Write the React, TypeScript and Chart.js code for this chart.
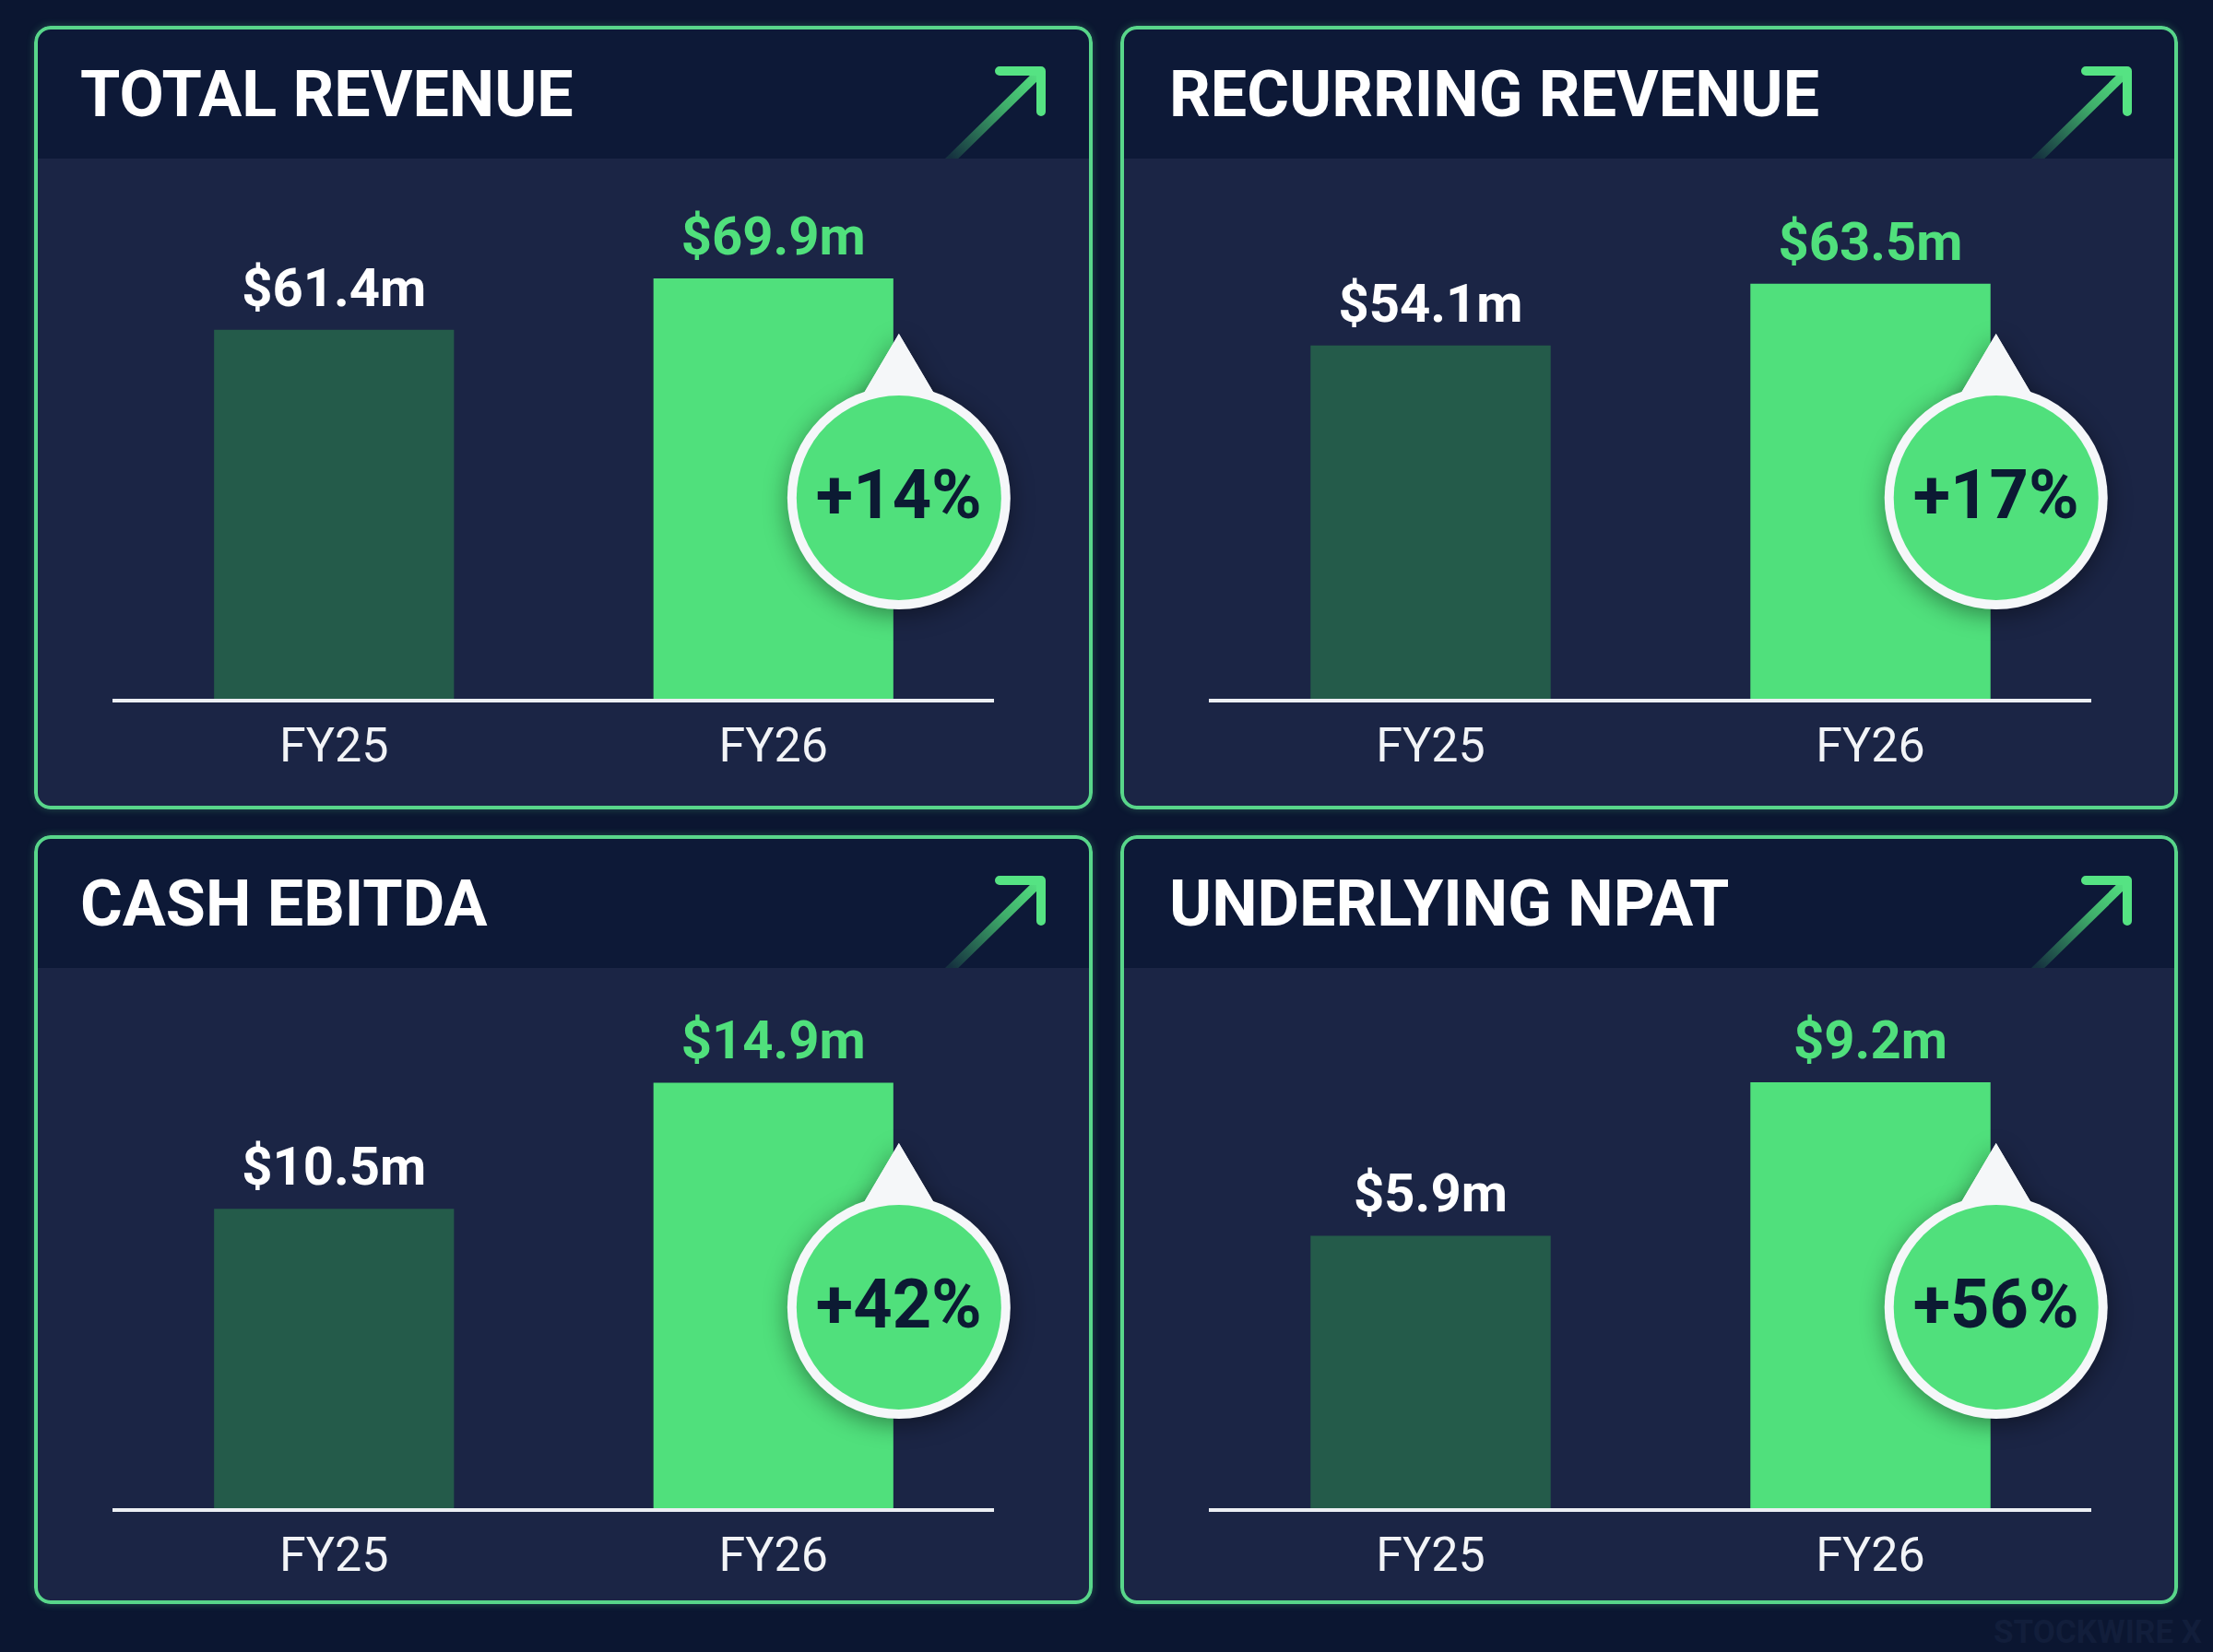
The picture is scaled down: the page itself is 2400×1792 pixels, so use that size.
import React, { useEffect, useRef } from "react";
import { Chart, registerables } from "chart.js";

Chart.register(...registerables);

// ---- data ----
const panelTitles = ["TOTAL REVENUE", "RECURRING REVENUE", "CASH EBITDA", "UNDERLYING NPAT"];
const periods = ["FY25", "FY26"];
const fy25Values = [61.4, 54.1, 10.5, 5.9];
const fy26Values = [69.9, 63.5, 14.9, 9.2];
const growthLabels = ["+14%", "+17%", "+42%", "+56%"];
const axisMax = [81.2, 74.7, 17.1, 10.55];

// ---- styling ----
const PAGE_BG = "#0b1631";
const HEADER_BG = "#0d1937";
const BODY_BG = "#1b2545";
const CARD_BORDER = "#58d68a";
const BAR_PREV = "#245b4a";
const BAR_CURR = "#50e07c";
const AXIS_COLOR = "#eceff3";
const BADGE_TEXT = "#0c1a33";
const FONT = "Roboto, 'Noto Sans', sans-serif";

const cardLeft = [37, 1215];
const cardWidth = [1148, 1147];
const cardTop = [28, 906];
const cardHeight = [850, 834];
const padLeft = [87, 98];
const padRight = [108, 95];
const titleLeft = [50, 53];

function Panel({ index }: { index: number }) {
  const col = index % 2;
  const row = Math.floor(index / 2);
  const w = cardWidth[col];
  const h = cardHeight[row];
  const canvasRef = useRef<HTMLCanvasElement>(null);

  useEffect(() => {
    const canvas = canvasRef.current;
    if (!canvas) return;
    const tickFont = 52;
    const tickPad = 22;
    const axisH = tickFont * 1.2 + tickPad * 2;
    const chartBottom = 732;
    const chartTop = 200;

    const overlay = {
      id: "overlay",
      afterDraw(chart: any) {
        const ctx = chart.ctx as CanvasRenderingContext2D;
        const meta = chart.getDatasetMeta(0);
        const data = chart.data.datasets[0].data as number[];
        ctx.save();
        ctx.font = `bold 58px ${FONT}`;
        ctx.textAlign = "center";
        ctx.textBaseline = "alphabetic";
        meta.data.forEach((bar: any, i: number) => {
          const p = bar.getProps(["x", "y", "width"], true);
          ctx.fillStyle = i === 0 ? "#ffffff" : BAR_CURR;
          ctx.fillText(`$${data[i].toFixed(1)}m`, p.x, p.y - 26);
        });
        ctx.restore();

        // growth badge
        const last = meta.data[1].getProps(["x", "y", "width"], true);
        const cx = last.x + last.width / 2 + 6;
        const cy = chart.chartArea.bottom - 220;
        ctx.save();
        ctx.shadowColor = "rgba(0,0,0,0.4)";
        ctx.shadowBlur = 26;
        ctx.shadowOffsetY = 6;
        ctx.fillStyle = "#f5f7f9";
        ctx.beginPath();
        ctx.moveTo(cx - 46, cy - 100);
        ctx.lineTo(cx, cy - 178);
        ctx.lineTo(cx + 46, cy - 100);
        ctx.closePath();
        ctx.fill();
        ctx.beginPath();
        ctx.arc(cx, cy, 121, 0, Math.PI * 2);
        ctx.fill();
        ctx.restore();
        ctx.save();
        ctx.fillStyle = "#f5f7f9";
        ctx.beginPath();
        ctx.moveTo(cx - 46, cy - 100);
        ctx.lineTo(cx, cy - 178);
        ctx.lineTo(cx + 46, cy - 100);
        ctx.closePath();
        ctx.fill();
        ctx.fillStyle = BAR_CURR;
        ctx.beginPath();
        ctx.arc(cx, cy, 111, 0, Math.PI * 2);
        ctx.fill();
        ctx.fillStyle = BADGE_TEXT;
        ctx.font = `bold 74px ${FONT}`;
        ctx.textAlign = "center";
        ctx.textBaseline = "alphabetic";
        ctx.fillText(growthLabels[index], cx, cy + 22);
        ctx.restore();
      },
    };

    const chart = new Chart(canvas, {
      type: "bar",
      data: {
        labels: periods,
        datasets: [
          {
            data: [fy25Values[index], fy26Values[index]],
            backgroundColor: [BAR_PREV, BAR_CURR],
            borderWidth: 0,
            barPercentage: 0.546,
            categoryPercentage: 1,
          },
        ],
      },
      options: {
        animation: false,
        responsive: false,
        maintainAspectRatio: false,
        devicePixelRatio: 1,
        events: [],
        layout: {
          padding: {
            top: chartTop,
            left: padLeft[col],
            right: padRight[col],
            bottom: h - chartBottom - axisH,
          },
        },
        plugins: { legend: { display: false }, tooltip: { enabled: false } },
        scales: {
          x: {
            grid: { display: false, drawTicks: false },
            border: { display: true, color: AXIS_COLOR, width: 4, z: 1 },
            ticks: {
              color: "#f2f4f7",
              padding: tickPad,
              font: { family: FONT, size: tickFont, weight: "normal" },
            },
          },
          y: { display: false, min: 0, max: axisMax[index] },
        },
      },
      plugins: [overlay],
    } as any);
    return () => chart.destroy();
  }, [index, w, h, col]);

  const gid = `arrowGrad${index}`;
  return (
    <div
      style={{
        position: "absolute",
        left: cardLeft[col],
        top: cardTop[row],
        width: w,
        height: h,
        borderRadius: 18,
        overflow: "hidden",
        background: BODY_BG,
        boxShadow: "0 0 8px rgba(88,214,138,0.3)",
      }}
    >
      <div style={{ position: "absolute", left: 0, top: 0, width: "100%", height: 144, background: HEADER_BG }} />
      <div
        style={{
          position: "absolute",
          left: titleLeft[col],
          top: 39,
          font: `bold 70px ${FONT}`,
          lineHeight: "70px",
          color: "#ffffff",
          whiteSpace: "nowrap",
        }}
      >
        {panelTitles[index]}
      </div>
      <svg style={{ position: "absolute", left: 0, top: 0 }} width={w} height={144}>
        <defs>
          <linearGradient id={gid} gradientUnits="userSpaceOnUse" x1={995} y1={144} x2={1092} y2={49}>
            <stop offset="0" stopColor="#50e07c" stopOpacity={0.12} />
            <stop offset="0.6" stopColor="#50e07c" stopOpacity={0.75} />
            <stop offset="1" stopColor="#55e383" stopOpacity={1} />
          </linearGradient>
        </defs>
        <line x1={992} y1={147} x2={1090} y2={51} stroke={`url(#${gid})`} strokeWidth={10} strokeLinecap="round" />
        <polyline
          points="1047,49 1092,49 1092,93"
          fill="none"
          stroke="#55e383"
          strokeWidth={10}
          strokeLinecap="round"
          strokeLinejoin="round"
        />
      </svg>
      <canvas ref={canvasRef} width={w} height={h} style={{ position: "absolute", left: 0, top: 0 }} />
      <div
        style={{
          position: "absolute",
          left: 0,
          top: 0,
          width: w,
          height: h,
          boxSizing: "border-box",
          border: `4px solid ${CARD_BORDER}`,
          borderRadius: 18,
          pointerEvents: "none",
        }}
      />
    </div>
  );
}

export default function App() {
  return (
    <div
      style={{
        position: "absolute",
        left: 0,
        top: 0,
        width: 2400,
        height: 1792,
        background: PAGE_BG,
        overflow: "hidden",
      }}
    >
      {panelTitles.map((_, i) => (
        <Panel key={i} index={i} />
      ))}
      <div
        style={{
          position: "absolute",
          right: 12,
          top: 1750,
          font: `bold 35px ${FONT}`,
          color: "#121e3b",
          whiteSpace: "nowrap",
        }}
      >
        STOCKWIRE X
      </div>
    </div>
  );
}
